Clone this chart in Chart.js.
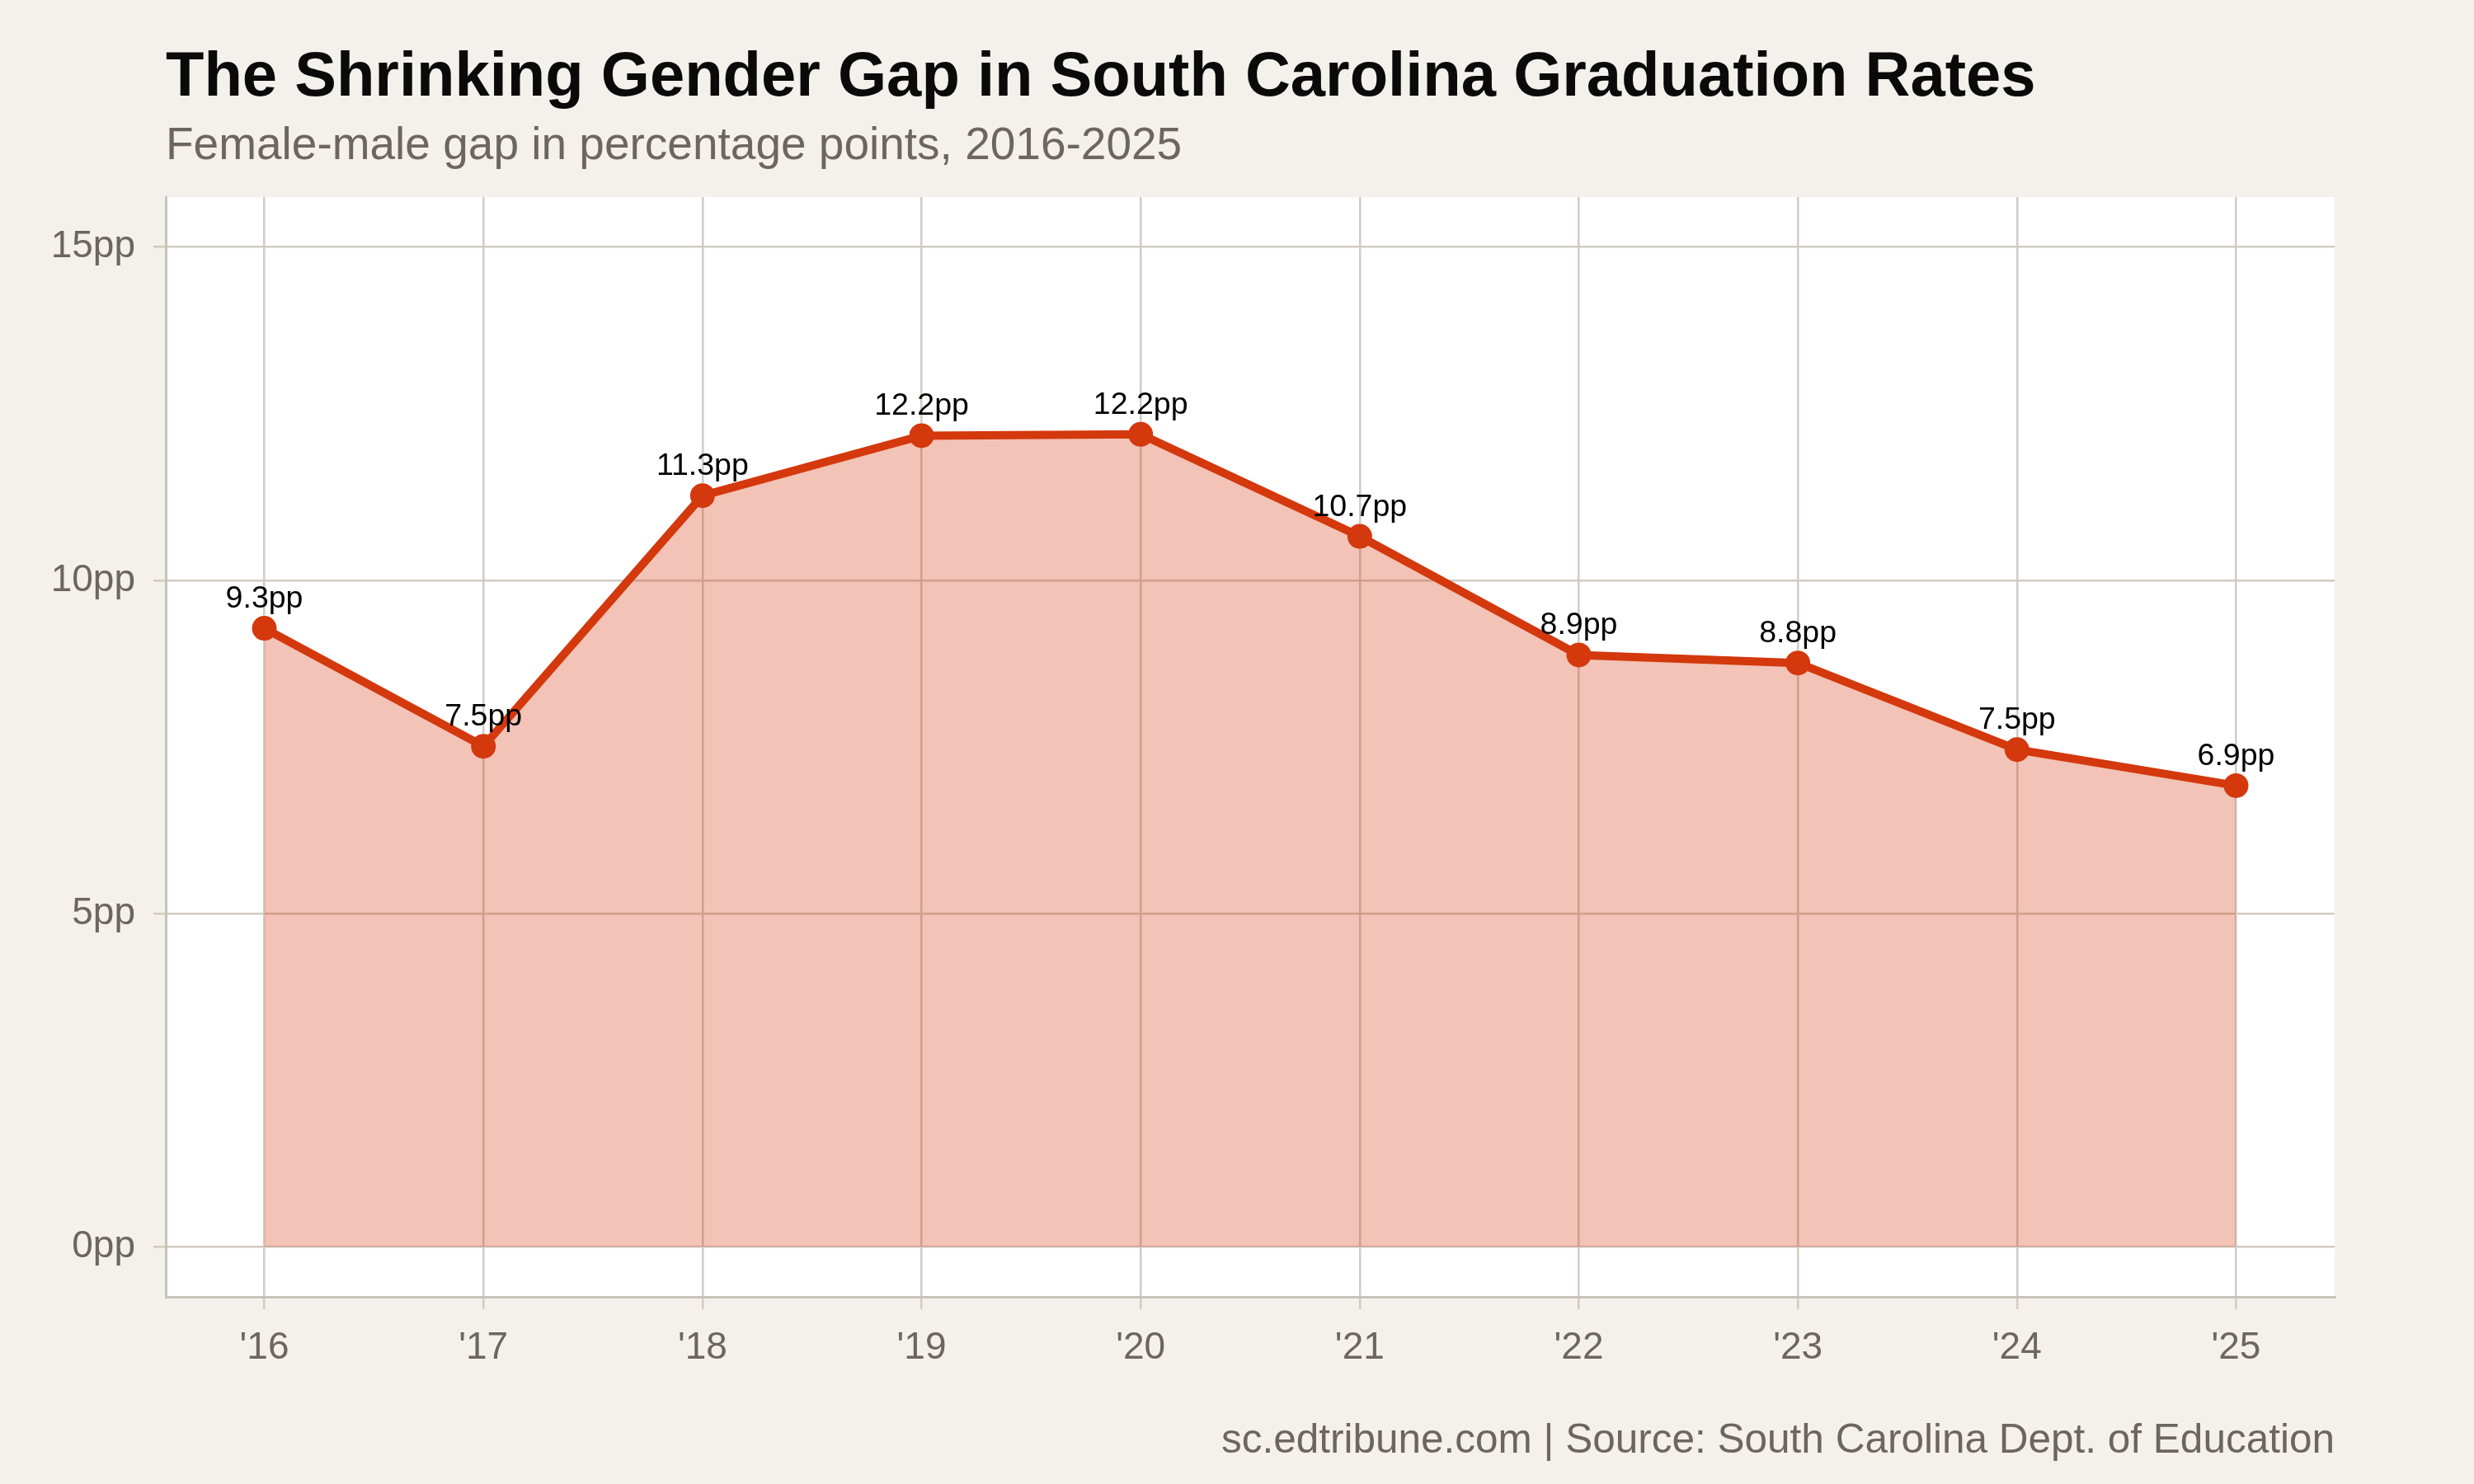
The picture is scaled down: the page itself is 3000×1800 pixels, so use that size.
<!DOCTYPE html>
<html>
<head>
<meta charset="utf-8">
<title>The Shrinking Gender Gap in South Carolina Graduation Rates</title>
<script src="https://cdn.jsdelivr.net/npm/chart.js@4.4.1/dist/chart.umd.min.js"></script>
<style>
    html, body { margin: 0; padding: 0; background: #f4f1ec; }
    canvas { display: block; }
</style>
</head>
<body>
<canvas id="gap-chart" width="3000" height="1800"></canvas>
<script>
"use strict";

// Data
const years = [2016, 2017, 2018, 2019, 2020, 2021, 2022, 2023, 2024, 2025];
const yearLabels = ["'16", "'17", "'18", "'19", "'20", "'21", "'22", "'23", "'24", "'25"];
const gapValues = [9.28, 7.51, 11.27, 12.17, 12.19, 10.66, 8.88, 8.76, 7.46, 6.92];
const yTickValues = [0, 5, 10, 15];

const TITLE = 'The Shrinking Gender Gap in South Carolina Graduation Rates';
const SUBTITLE = 'Female-male gap in percentage points, 2016-2025';
const FOOTER = 'sc.edtribune.com | Source: South Carolina Dept. of Education';

const FONT = '"Liberation Sans", Arial, Helvetica, sans-serif';
const LINE_COLOR = '#d4380d';
const GRID_COLOR = '#d2cbc2';
const TEXT_GRAY = '#6b6661';

/**
 * Background, panel and the titles/footer
 */
const backdropPlugin = {
    id: 'backdrop',
    beforeDraw(chart) {
        const { ctx, chartArea: a } = chart;
        ctx.save();
        ctx.fillStyle = '#f4f1ec';
        ctx.fillRect(0, 0, chart.width, chart.height);
        ctx.fillStyle = '#ffffff';
        ctx.fillRect(a.left, a.top, a.right - a.left, a.bottom - a.top);
        ctx.restore();
    },
    afterDraw(chart) {
        const { ctx, chartArea: a } = chart;
        ctx.save();
        ctx.textBaseline = 'alphabetic';

        ctx.textAlign = 'left';
        ctx.fillStyle = '#0a0a0a';
        ctx.font = 'bold 76px ' + FONT;
        ctx.fillText(TITLE, a.left, 116);

        ctx.fillStyle = TEXT_GRAY;
        ctx.font = '55px ' + FONT;
        ctx.fillText(SUBTITLE, a.left, 193);

        ctx.textAlign = 'right';
        ctx.font = '49.5px ' + FONT;
        ctx.fillText(FOOTER, a.right, 1762);
        ctx.restore();
    }
};

/**
 * Value labels above each point
 */
const pointLabelPlugin = {
    id: 'pointLabels',
    afterDatasetsDraw(chart) {
        const { ctx } = chart;
        const meta = chart.getDatasetMeta(0);
        ctx.save();
        ctx.fillStyle = '#000000';
        ctx.font = '37.5px ' + FONT;
        ctx.textAlign = 'center';
        ctx.textBaseline = 'alphabetic';
        meta.data.forEach((pt, i) => {
            ctx.fillText(gapValues[i].toFixed(1) + 'pp', pt.x, pt.y - 25);
        });
        ctx.restore();
    }
};

const canvas = document.getElementById('gap-chart');

new Chart(canvas.getContext('2d'), {
    type: 'line',
    data: {
        datasets: [{
            data: years.map((yr, i) => ({ x: yr, y: gapValues[i] })),
            borderColor: LINE_COLOR,
            backgroundColor: 'rgba(212, 56, 13, 0.3)',
            fill: 'origin',
            tension: 0,
            borderWidth: 10,
            pointRadius: 15,
            pointHoverRadius: 15,
            pointBackgroundColor: LINE_COLOR,
            pointBorderWidth: 0
        }]
    },
    options: {
        responsive: false,
        animation: false,
        devicePixelRatio: 1,
        layout: {
            padding: { left: 0, top: 239, right: 169, bottom: 117 }
        },
        plugins: {
            legend: { display: false },
            tooltip: { enabled: false }
        },
        scales: {
            x: {
                type: 'linear',
                min: 2015.55,
                max: 2025.45,
                afterBuildTicks: (scale) => {
                    scale.ticks = years.map(v => ({ value: v }));
                },
                afterFit: (scale) => { scale.height = 110; },
                border: { display: true, color: '#c9c2b8', width: 3 },
                grid: {
                    color: GRID_COLOR,
                    lineWidth: 2.5,
                    drawTicks: true,
                    tickLength: 15,
                    tickColor: GRID_COLOR
                },
                ticks: {
                    color: TEXT_GRAY,
                    font: { family: FONT, size: 46 },
                    padding: 20,
                    maxRotation: 0,
                    callback: (value) => yearLabels[years.indexOf(value)]
                }
            },
            y: {
                type: 'linear',
                min: -0.75,
                max: 15.75,
                afterBuildTicks: (scale) => {
                    scale.ticks = yTickValues.map(v => ({ value: v }));
                },
                afterFit: (scale) => { scale.width = 201; },
                border: { display: true, color: '#c9c2b8', width: 3 },
                grid: {
                    color: GRID_COLOR,
                    lineWidth: 2.5,
                    drawTicks: true,
                    tickLength: 15,
                    tickColor: GRID_COLOR
                },
                ticks: {
                    color: TEXT_GRAY,
                    font: { family: FONT, size: 46 },
                    padding: 22,
                    callback: (value) => value + 'pp'
                }
            }
        }
    },
    plugins: [backdropPlugin, pointLabelPlugin]
});
</script>
</body>
</html>
